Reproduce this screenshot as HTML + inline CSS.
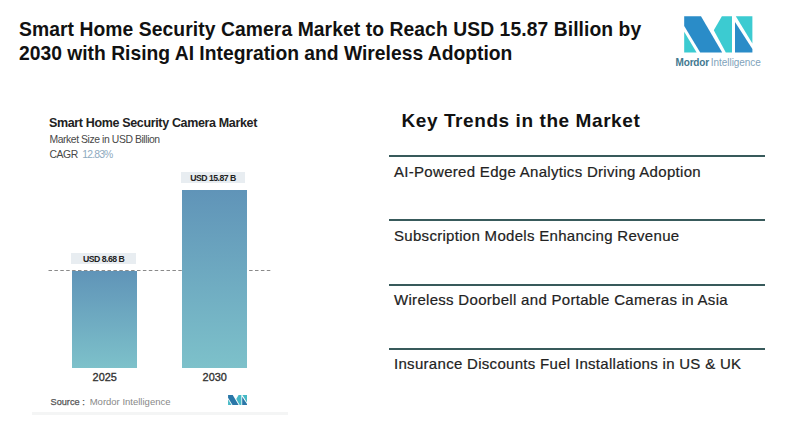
<!DOCTYPE html>
<html>
<head>
<meta charset="utf-8">
<style>
html,body{margin:0;padding:0;}
body{width:800px;height:435px;background:#fff;position:relative;overflow:hidden;font-family:"Liberation Sans",sans-serif;}
.abs{position:absolute;white-space:nowrap;}
.title{left:19px;font-size:19.3px;font-weight:700;color:#111;line-height:23px;}
.kt{left:401.5px;font-size:19px;font-weight:700;color:#111;letter-spacing:0.58px;}
.sep{position:absolute;left:388.5px;width:376.5px;height:2px;background:#385a5b;}
.item{left:394px;font-size:15px;color:#222;letter-spacing:0.3px;-webkit-text-stroke:0.2px #222;}
.ct{left:49px;font-size:12.5px;font-weight:700;color:#222;letter-spacing:-0.35px;}
.cs{left:49.4px;font-size:10.4px;color:#484848;letter-spacing:-0.42px;}
.bar{position:absolute;background:linear-gradient(180deg,#6094b8 0%,#7dc1ca 100%);}
.lbl{position:absolute;background:#e8edf1;font-size:8.7px;font-weight:700;color:#222;text-align:center;letter-spacing:-0.52px;}
.yr{font-size:10.9px;color:#333;-webkit-text-stroke:0.35px #333;}
</style>
</head>
<body>
<!-- Title -->
<div class="abs title" style="top:18.4px;letter-spacing:0.08px;">Smart Home Security Camera Market to Reach USD 15.87 Billion by</div>
<div class="abs title" style="top:41.7px;">2030 with Rising AI Integration and Wireless Adoption</div>

<!-- Logo -->
<svg class="abs" style="left:0;top:0;" width="800" height="80" viewBox="0 0 800 80">
  <polygon fill="#2a8cc8" points="684.2,16.2 701,16.2 722.2,52.4 700.2,52.4 684.2,26"/>
  <polygon fill="#3ccbd1" points="684.2,31.8 684.2,52.4 696.6,52.4"/>
  <polygon fill="#3ccbd1" points="721.9,16.2 732,16.2 732,52.4 725.8,52.4 713.8,30.2"/>
  <polygon fill="#3ccbd1" points="735.8,16.2 752.4,16.2 752.4,43.5"/>
  <polygon fill="#2a8cc8" points="735,22 735,52.4 752.4,52.4 752.4,49"/>
</svg>
<div class="abs" style="left:675.6px;top:57px;font-size:10px;line-height:12px;"><span style="font-weight:700;color:#42788f;letter-spacing:-0.2px;">Mordor</span><span style="color:#7fa3bb;margin-left:2px;letter-spacing:-0.05px;">Intelligence</span></div>

<!-- Chart -->
<div class="abs ct" style="top:115.6px;">Smart Home Security Camera Market</div>
<div class="abs cs" style="top:134.1px;">Market Size in USD Billion</div>
<div class="abs cs" style="top:148.9px;">CAGR<span style="color:#8eaac0;margin-left:4.6px;letter-spacing:-0.85px;">12.83%</span></div>

<svg class="abs" style="left:0;top:0;" width="300" height="300">
  <line x1="48.5" y1="270.5" x2="271" y2="270.5" stroke="#8a8a8a" stroke-width="1" stroke-dasharray="3.5 2.4"/>
</svg>
<div class="lbl" style="left:180.7px;top:172.3px;width:64.5px;height:10.7px;line-height:12.2px;">USD 15.87 B</div>
<div class="bar" style="left:181.5px;top:189.5px;width:65.5px;height:178px;"></div>

<div class="lbl" style="left:71.4px;top:253.3px;width:64.5px;height:11px;line-height:12.2px;">USD 8.68 B</div>
<div class="bar" style="left:71.5px;top:270.5px;width:65.5px;height:97px;"></div>


<div class="abs yr" style="left:92.6px;top:370.8px;">2025</div>
<div class="abs yr" style="left:202.6px;top:370.8px;">2030</div>

<div class="abs" style="left:50.5px;top:396.5px;font-size:9.2px;color:#555;-webkit-text-stroke:0.25px #555;">Source :</div>
<div class="abs" style="left:89.7px;top:396px;font-size:9.5px;color:#888;">Mordor Intelligence</div>

<svg class="abs" style="left:227.5px;top:394.6px;" width="19.2" height="10" viewBox="684 16 69 36.5" preserveAspectRatio="none">
  <polygon fill="#2a77a8" points="684.2,16.2 701,16.2 722.2,52.4 700.2,52.4 684.2,26"/>
  <polygon fill="#45b9c6" points="684.2,31.8 684.2,52.4 696.6,52.4"/>
  <polygon fill="#45b9c6" points="721.9,16.2 732,16.2 732,52.4 725.8,52.4 713.8,30.2"/>
  <polygon fill="#45b9c6" points="735.8,16.2 752.4,16.2 752.4,43.5"/>
  <polygon fill="#2a77a8" points="735,22 735,52.4 752.4,52.4 752.4,49"/>
</svg>
<div class="abs" style="left:32px;top:411.6px;width:256px;height:3.4px;background:#f4f5f5;"></div>

<!-- Key Trends -->
<div class="abs kt" style="top:110.2px;">Key Trends in the Market</div>
<div class="sep" style="top:155px;"></div>
<div class="abs item" style="top:162.8px;">AI-Powered Edge Analytics Driving Adoption</div>
<div class="sep" style="top:219px;"></div>
<div class="abs item" style="top:227.1px;">Subscription Models Enhancing Revenue</div>
<div class="sep" style="top:284px;"></div>
<div class="abs item" style="top:291.3px;">Wireless Doorbell and Portable Cameras in Asia</div>
<div class="sep" style="top:348px;"></div>
<div class="abs item" style="top:354.7px;">Insurance Discounts Fuel Installations in US &amp; UK</div>
</body>
</html>
